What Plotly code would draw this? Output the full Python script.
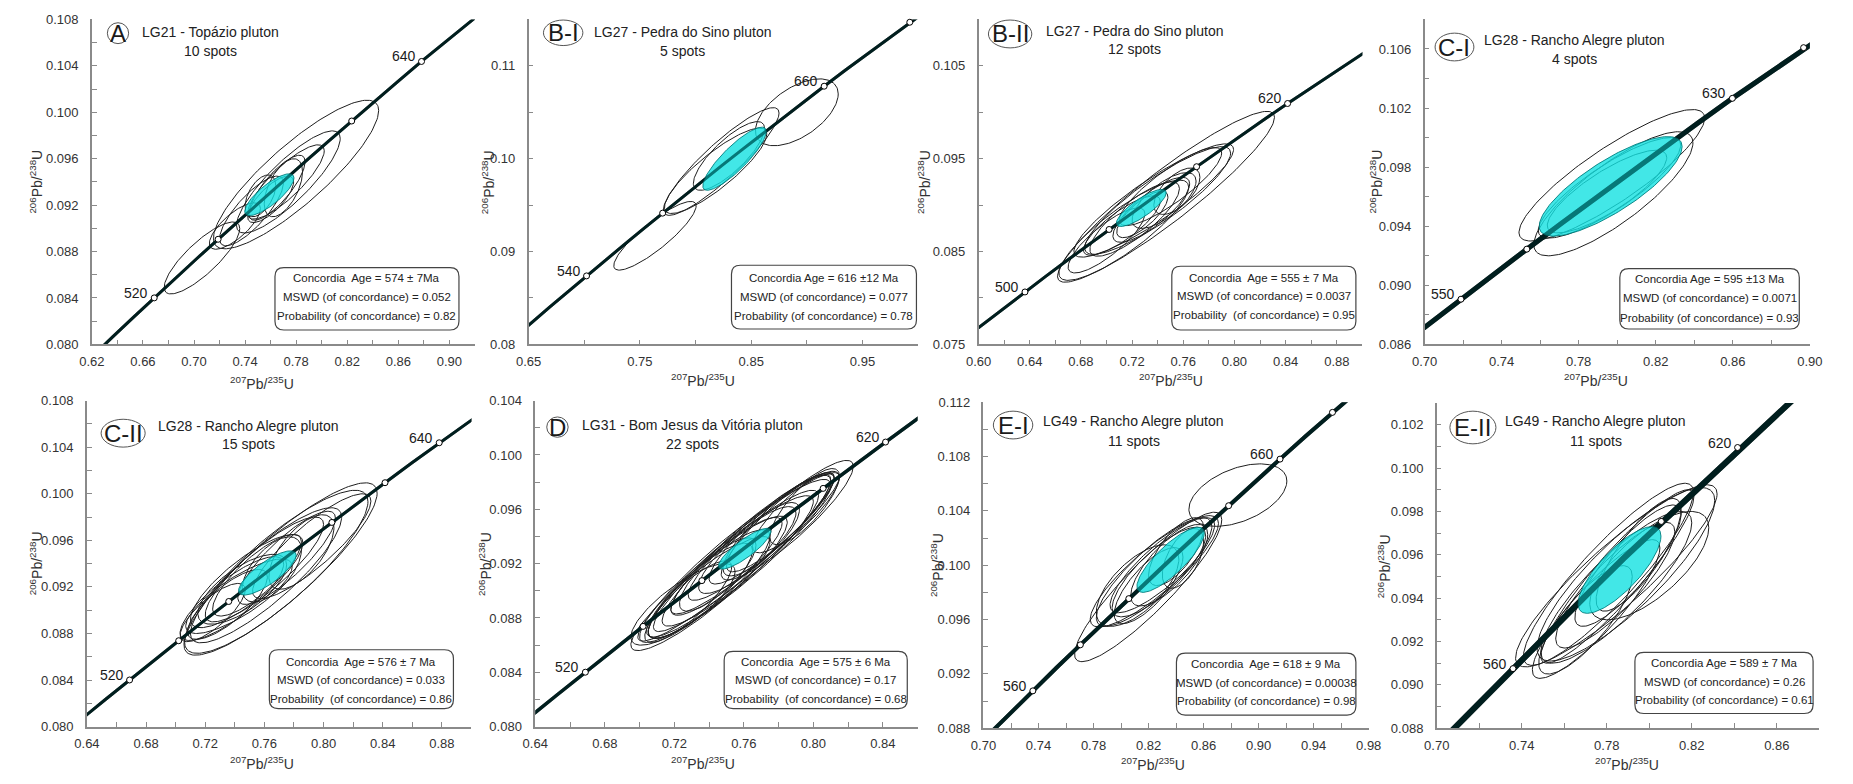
import numpy as np
import plotly.graph_objects as go

W, H = 1853, 784
FONT = "Liberation Sans, Arial, sans-serif"
NARROW = "Liberation Sans Narrow, Arial Narrow, Liberation Sans, sans-serif"

# ---------------- Concordia reference points (age Ma, 207Pb/235U, 206Pb/238U) ----------------
concordia_age = [460, 470, 480, 490, 500, 510, 520, 530, 540, 550, 560, 570, 580, 590, 600,
                 610, 620, 630, 640, 650, 660, 670, 680, 690, 700, 710, 720, 730, 740]
concordia_207 = [0.57307, 0.58864, 0.60436, 0.62024, 0.63628, 0.65247, 0.66883, 0.68535, 0.70203,
                 0.71887, 0.73588, 0.75306, 0.77041, 0.78794, 0.80563, 0.82350, 0.84155, 0.85978,
                 0.87818, 0.89677, 0.91554, 0.93450, 0.95365, 0.97298, 0.99251, 1.01223, 1.03215,
                 1.05226, 1.07257]
concordia_206 = [0.07397, 0.07563, 0.07730, 0.07897, 0.08065, 0.08233, 0.08401, 0.08569, 0.08738,
                 0.08906, 0.09075, 0.09245, 0.09414, 0.09584, 0.09754, 0.09925, 0.10095, 0.10266,
                 0.10438, 0.10609, 0.10781, 0.10953, 0.11125, 0.11297, 0.11470, 0.11643, 0.11817,
                 0.11990, 0.12164]

# ---------------- panel texts ----------------
panel_letters = ["A", "B-I", "B-II", "C-I", "C-II", "D", "E-I", "E-II"]
panel_titles = ["LG21 - Topázio pluton", "LG27 - Pedra do Sino pluton", "LG27 - Pedra do Sino pluton",
                "LG28 - Rancho Alegre pluton", "LG28 - Rancho Alegre pluton",
                "LG31 - Bom Jesus da Vitória pluton", "LG49 - Rancho Alegre pluton",
                "LG49 - Rancho Alegre pluton"]
panel_spots = ["10 spots", "5 spots", "12 spots", "4 spots", "15 spots", "22 spots", "11 spots", "11 spots"]
box_age = ["Concordia\u00a0 Age = 574 ± 7Ma", "Concordia Age = 616 ±12 Ma", "Concordia\u00a0 Age = 555 ± 7 Ma",
           "Concordia Age = 595 ±13 Ma", "Concordia\u00a0 Age = 576 ± 7 Ma", "Concordia\u00a0 Age = 575 ± 6 Ma",
           "Concordia\u00a0 Age = 618 ± 9 Ma", "Concordia Age = 589 ± 7 Ma"]
box_mswd = ["MSWD (of concordance) = 0.052", "MSWD (of concordance) = 0.077", "MSWD (of concordance) = 0.0037",
            "MSWD (of concordance) = 0.0071", "MSWD (of concordance) = 0.033", "MSWD (of concordance) = 0.17",
            "MSWD (of concordance) = 0.00038", "MSWD (of concordance) = 0.26"]
box_prob = ["Probability (of concordance) = 0.82", "Probability (of concordance) = 0.78",
            "Probability\u00a0 (of concordance) = 0.95", "Probability (of concordance) = 0.93",
            "Probability\u00a0 (of concordance) = 0.86", "Probability\u00a0 (of concordance) = 0.68",
            "Probability (of concordance) = 0.98", "Probability (of concordance) = 0.61"]

# ---------------- concordia age markers ----------------
marker_ages = [[520, 550, 580, 610, 640], [540, 580, 620, 660, 700], [500, 540, 580, 620],
               [550, 570, 590, 610, 630, 650], [520, 540, 560, 580, 600, 620, 640],
               [520, 540, 560, 580, 600, 620], [560, 580, 600, 620, 640, 660, 680], [560, 580, 600, 620]]
label_ages = [[520, 640], [540, 660], [500, 620], [550, 630], [520, 640], [520, 620], [560, 660], [560, 620]]

# ---------------- axes ----------------
x_ranges = [[0.62, 0.92], [0.65, 1.00], [0.60, 0.90], [0.70, 0.90], [0.64, 0.90], [0.64, 0.86], [0.70, 0.98], [0.70, 0.88]]
y_ranges = [[0.080, 0.108], [0.080, 0.115], [0.075, 0.110], [0.086, 0.108], [0.080, 0.108], [0.080, 0.104],
            [0.088, 0.112], [0.088, 0.103]]
x_tick_vals = [[0.62, 0.66, 0.70, 0.74, 0.78, 0.82, 0.86, 0.90], [0.65, 0.75, 0.85, 0.95],
               [0.60, 0.64, 0.68, 0.72, 0.76, 0.80, 0.84, 0.88], [0.70, 0.74, 0.78, 0.82, 0.86, 0.90],
               [0.64, 0.68, 0.72, 0.76, 0.80, 0.84, 0.88], [0.64, 0.68, 0.72, 0.76, 0.80, 0.84],
               [0.70, 0.74, 0.78, 0.82, 0.86, 0.90, 0.94, 0.98], [0.70, 0.74, 0.78, 0.82, 0.86]]
y_tick_vals = [[0.080, 0.084, 0.088, 0.092, 0.096, 0.100, 0.104, 0.108], [0.08, 0.09, 0.10, 0.11],
               [0.075, 0.085, 0.095, 0.105], [0.086, 0.090, 0.094, 0.098, 0.102, 0.106],
               [0.080, 0.084, 0.088, 0.092, 0.096, 0.100, 0.104, 0.108],
               [0.080, 0.084, 0.088, 0.092, 0.096, 0.100, 0.104],
               [0.088, 0.092, 0.096, 0.100, 0.104, 0.108, 0.112],
               [0.088, 0.090, 0.092, 0.094, 0.096, 0.098, 0.100, 0.102]]
x_minor_step = [0.02, 0.05, 0.02, 0.02, 0.02, 0.02, 0.02, 0.02]
y_minor_step = [0.002, 0.005, 0.005, 0.002, 0.002, 0.002, 0.002, 0.001]
y_label_fmt = [".3f", ".2f", ".3f", ".3f", ".3f", ".3f", ".3f", ".3f"]

# ---------------- spot error ellipses: (x centre, y centre, x half-extent, y half-extent, rho) ----------------
spots_A = [(0.7062, 0.08745, 0.0296, 0.0031, 0.82), (0.7799, 0.09464, 0.0647, 0.0064, 0.86),
           (0.7739, 0.09400, 0.0406, 0.0044, 0.85), (0.7450, 0.09150, 0.0250, 0.0030, 0.80),
           (0.7650, 0.09350, 0.0220, 0.0028, 0.80), (0.7720, 0.09400, 0.0300, 0.0032, 0.84),
           (0.7600, 0.09250, 0.0180, 0.0020, 0.75), (0.7320, 0.09020, 0.0200, 0.0020, 0.75),
           (0.7700, 0.09350, 0.0150, 0.0025, 0.55), (0.7520, 0.09280, 0.0120, 0.0018, 0.50)]
spots_B1 = [(0.7635, 0.0917, 0.0370, 0.0037, 0.87), (0.8910, 0.1050, 0.0372, 0.0036, 0.55),
            (0.8230, 0.0997, 0.0520, 0.0058, 0.90), (0.8180, 0.0987, 0.0460, 0.0046, 0.86),
            (0.8300, 0.1003, 0.0320, 0.0037, 0.80)]
spots_B2 = [(0.7465, 0.0909, 0.0848, 0.0092, 0.93), (0.7369, 0.0905, 0.0624, 0.0061, 0.90),
            (0.7400, 0.0905, 0.0570, 0.0058, 0.88), (0.7135, 0.0873, 0.0507, 0.0054, 0.86),
            (0.7220, 0.0885, 0.0350, 0.0040, 0.82), (0.7350, 0.0895, 0.0300, 0.0035, 0.80),
            (0.7450, 0.0905, 0.0250, 0.0030, 0.70), (0.7280, 0.0890, 0.0200, 0.0025, 0.75),
            (0.7550, 0.0915, 0.0180, 0.0025, 0.60), (0.7120, 0.0878, 0.0300, 0.0032, 0.82),
            (0.7500, 0.0920, 0.0400, 0.0042, 0.86), (0.7000, 0.0862, 0.0300, 0.0035, 0.82)]
spots_C1 = [(0.7972, 0.09745, 0.0482, 0.00445, 0.87), (0.7980, 0.09620, 0.0413, 0.00420, 0.82),
            (0.7960, 0.09660, 0.0370, 0.00340, 0.85), (0.7947, 0.09635, 0.0310, 0.00280, 0.82)]
spots_C2 = [(0.7709, 0.09354, 0.0653, 0.0074, 0.88), (0.7680, 0.09330, 0.0620, 0.0070, 0.86),
            (0.7611, 0.09300, 0.0511, 0.0058, 0.86), (0.7428, 0.09120, 0.0360, 0.0032, 0.80),
            (0.7480, 0.09250, 0.0380, 0.0040, 0.82), (0.7350, 0.09050, 0.0270, 0.0030, 0.78),
            (0.7250, 0.08980, 0.0220, 0.0025, 0.78), (0.7550, 0.09300, 0.0300, 0.0035, 0.82),
            (0.7750, 0.09450, 0.0330, 0.0040, 0.85), (0.7850, 0.09500, 0.0220, 0.0032, 0.65),
            (0.7600, 0.09350, 0.0400, 0.0045, 0.86), (0.7450, 0.09180, 0.0300, 0.0030, 0.70),
            (0.7920, 0.09550, 0.0400, 0.0045, 0.86), (0.7650, 0.09350, 0.0200, 0.0028, 0.60),
            (0.7380, 0.09100, 0.0350, 0.0036, 0.82)]
spots_D = [(0.7570, 0.0925, 0.0580, 0.0062, 0.95), (0.7550, 0.0922, 0.0550, 0.0060, 0.93),
           (0.7600, 0.0928, 0.0520, 0.0058, 0.94), (0.7520, 0.0918, 0.0480, 0.0052, 0.92),
           (0.7650, 0.0935, 0.0470, 0.0052, 0.93), (0.7700, 0.0940, 0.0420, 0.0047, 0.92),
           (0.7450, 0.0910, 0.0400, 0.0045, 0.90), (0.7400, 0.0905, 0.0350, 0.0040, 0.88),
           (0.7750, 0.0945, 0.0350, 0.0040, 0.90), (0.7350, 0.0900, 0.0300, 0.0035, 0.85),
           (0.7800, 0.0950, 0.0300, 0.0036, 0.88), (0.7500, 0.0918, 0.0320, 0.0036, 0.88),
           (0.7620, 0.0930, 0.0280, 0.0032, 0.85), (0.7280, 0.0892, 0.0250, 0.0030, 0.85),
           (0.7900, 0.0958, 0.0250, 0.0030, 0.85), (0.7450, 0.0912, 0.0220, 0.0027, 0.80),
           (0.7700, 0.0938, 0.0220, 0.0027, 0.80), (0.7350, 0.0898, 0.0400, 0.0042, 0.90),
           (0.7850, 0.0952, 0.0380, 0.0044, 0.90), (0.7580, 0.0924, 0.0450, 0.0050, 0.92),
           (0.7250, 0.0890, 0.0300, 0.0030, 0.80), (0.7950, 0.0962, 0.0200, 0.0028, 0.80)]
spots_E1 = [(0.8849, 0.10516, 0.0356, 0.0023, 0.45), (0.8197, 0.09840, 0.0535, 0.0055, 0.90),
            (0.8242, 0.09955, 0.0466, 0.0041, 0.86), (0.8240, 0.09950, 0.0420, 0.0040, 0.84),
            (0.8300, 0.10000, 0.0380, 0.0035, 0.84), (0.8275, 0.09950, 0.0340, 0.0033, 0.80),
            (0.8350, 0.10000, 0.0280, 0.0030, 0.75), (0.8200, 0.09850, 0.0250, 0.0028, 0.75),
            (0.8400, 0.10100, 0.0200, 0.0025, 0.70), (0.8120, 0.09850, 0.0300, 0.0030, 0.65),
            (0.8450, 0.10050, 0.0150, 0.0022, 0.55)]
spots_E2 = [(0.7845, 0.09503, 0.0474, 0.0042, 0.90), (0.7808, 0.09510, 0.0400, 0.0042, 0.90),
            (0.7890, 0.09510, 0.0418, 0.0040, 0.85), (0.7845, 0.09450, 0.0355, 0.0035, 0.85),
            (0.7840, 0.09460, 0.0280, 0.0029, 0.85), (0.7750, 0.09350, 0.0300, 0.0032, 0.88),
            (0.7900, 0.09550, 0.0250, 0.0028, 0.85), (0.7950, 0.09600, 0.0200, 0.0026, 0.80),
            (0.8000, 0.09550, 0.0280, 0.0025, 0.70), (0.7700, 0.09300, 0.0220, 0.0025, 0.80),
            (0.7850, 0.09500, 0.0360, 0.0040, 0.92)]
all_spots = [spots_A, spots_B1, spots_B2, spots_C1, spots_C2, spots_D, spots_E1, spots_E2]

# concordia-age ellipses (cyan)
concordia_ellipses = [(0.7590, 0.0929, 0.0193, 0.0018, 0.80), (0.8350, 0.1000, 0.0285, 0.0034, 0.86),
                      (0.7272, 0.0897, 0.0195, 0.0020, 0.82), (0.7966, 0.0967, 0.0371, 0.00337, 0.80),
                      (0.7620, 0.0932, 0.0195, 0.0019, 0.80), (0.7605, 0.0931, 0.0151, 0.0015, 0.85),
                      (0.8360, 0.1004, 0.0245, 0.0024, 0.82), (0.7860, 0.0953, 0.0195, 0.0020, 0.78)]

# ---------------- layout geometry (pixels) ----------------
plot_px = [(80, 468.5, 12.7, 344), (523, 918, 12.7, 344), (979.3, 1368.6, 12.7, 344),
           (1431.7, 1822.4, 12.7, 344), (75, 465, 401.3, 733.7), (529.7, 917.5, 401.3, 733.7),
           (984.3, 1375, 402.9, 735.3), (1444, 1832, 403.8, 735.3)]
conc_width = [3, 3, 3, 5, 3, 3.5, 4, 6]
box_px = [(265.7, 265.7, 452.3, 329.3), (728.7, 263.3, 916.3, 328.3), (1175.3, 264.3, 1362, 329.3),
          (1629.7, 266.7, 1811.7, 328.3), (260, 655.3, 446.7, 715.3), (721.3, 657, 907, 715.3),
          (1180, 658.7, 1362, 722), (1645, 658, 1825.7, 720.3)]
box_line_px = [(276.7, 296, 315), (276.7, 295.3, 315), (276, 295, 314.3), (277.7, 296.7, 316.7),
               (668, 686.3, 705.3), (668, 686, 705.3), (669.7, 688.7, 708), (669.3, 687.7, 707)]
circle_px = [(106.5, 26.7, 21.6, 21.3), (558, 26.3, 40, 26), (1011.3, 27.5, 44, 28.4),
             (1462, 40.8, 39.4, 28.3), (111.7, 434.5, 44.7, 28.4), (552.2, 428.3, 21.7, 20.7),
             (1014.3, 426.2, 40, 28.3), (1480.7, 428.7, 46.7, 33.3)]
title_px = [(200.5, 25.7, 45), (679, 25.7, 45), (1137.7, 24, 43.3), (1583.3, 33.3, 53.3),
            (238.7, 427, 446), (688.8, 426.3, 446), (1136.5, 422, 442), (1605.2, 422, 442)]
xtitle_px = [(253, 383.3), (699.7, 380), (1174.3, 380), (1605.7, 380), (253, 770.3), (699.7, 770.3),
             (1156, 772), (1637.3, 772)]
ytitle_x_px = [23, 482, 924, 1382, 23, 478, 937, 1390]


def px(x):
    return x / W


def py(y):
    return 1 - y / H


def ellipse_xy(cx, cy, ex, ey, rho, n=160):
    t = np.linspace(0, 2 * np.pi, n)
    s = np.sqrt(1 - rho ** 2)
    return cx + ex * np.cos(t), cy + ey * (rho * np.cos(t) + s * np.sin(t))


def inside(xv, yv, e):
    cx, cy, ex, ey, rho = e
    u = (xv - cx) / ex
    v = (yv - cy) / ey
    s = np.sqrt(1 - rho ** 2)
    return u ** 2 + ((v - rho * u) / s) ** 2 < 1.05


fig = go.Figure()
annotations = []
shapes = []
age_lookup = dict(zip(concordia_age, zip(concordia_207, concordia_206)))

for i in range(8):
    k = "" if i == 0 else str(i + 1)
    xa, ya = "x" + k, "y" + k
    # spot ellipses
    exs, eys = [], []
    for e in all_spots[i]:
        xe, ye = ellipse_xy(*e)
        exs += list(xe) + [None]
        eys += list(ye) + [None]
    fig.add_trace(go.Scatter(x=exs, y=eys, mode="lines", line=dict(color="#1e1e1e", width=1),
                             xaxis=xa, yaxis=ya, showlegend=False, hoverinfo="skip"))
    # concordia curve
    fig.add_trace(go.Scatter(x=concordia_207, y=concordia_206, mode="lines",
                             line=dict(color="black", width=conc_width[i]),
                             xaxis=xa, yaxis=ya, showlegend=False, hoverinfo="skip"))
    # cyan concordia-age ellipse
    ce = concordia_ellipses[i]
    xc, yc = ellipse_xy(*ce)
    fig.add_trace(go.Scatter(x=xc, y=yc, mode="lines", fill="toself",
                             fillcolor="rgba(19,225,225,0.80)",
                             line=dict(color="rgba(0,125,125,0.9)", width=1),
                             xaxis=xa, yaxis=ya, showlegend=False, hoverinfo="skip"))
    fig.add_trace(go.Scatter(x=concordia_207, y=concordia_206, mode="lines",
                             line=dict(color="rgba(0,60,60,0.5)", width=conc_width[i]),
                             xaxis=xa, yaxis=ya, showlegend=False, hoverinfo="skip"))
    # age markers (those not covered by the cyan ellipse)
    mx = [age_lookup[a][0] for a in marker_ages[i] if not inside(age_lookup[a][0], age_lookup[a][1], ce)]
    my = [age_lookup[a][1] for a in marker_ages[i] if not inside(age_lookup[a][0], age_lookup[a][1], ce)]
    fig.add_trace(go.Scatter(x=mx, y=my, mode="markers",
                             marker=dict(symbol="circle", size=6, color="white",
                                         line=dict(color="black", width=1)),
                             xaxis=xa, yaxis=ya, showlegend=False, hoverinfo="skip", cliponaxis=False))
    for a in label_ages[i]:
        annotations.append(dict(x=age_lookup[a][0], y=age_lookup[a][1], xref=xa, yref=ya, text=str(a),
                                showarrow=False, xanchor="right", yanchor="middle", xshift=-4, yshift=5,
                                font=dict(family=FONT, size=14, color="#1a1a1a")))

    l, r, t, b = plot_px[i]
    axis_common = dict(showline=True, linecolor="#8a8a8a", linewidth=1.5, ticks="inside", ticklen=5,
                       tickwidth=1, tickcolor="#8a8a8a", showgrid=False, zeroline=False,
                       tickfont=dict(family=FONT, size=13, color="#333333"))
    fig.layout["xaxis" + k] = dict(domain=[px(l), px(r)], range=x_ranges[i], anchor=ya,
                                   tickmode="array", tickvals=x_tick_vals[i], tickformat=".2f",
                                   ticklabelstandoff=4,
                                   minor=dict(tickmode="linear", tick0=x_ranges[i][0], dtick=x_minor_step[i],
                                              ticks="inside", ticklen=5, tickcolor="#8a8a8a", showgrid=False),
                                   **axis_common)
    fig.layout["yaxis" + k] = dict(domain=[py(b), py(t)], range=y_ranges[i], anchor=xa,
                                   tickmode="array", tickvals=y_tick_vals[i], tickformat=y_label_fmt[i],
                                   ticklabelstandoff=9,
                                   minor=dict(tickmode="linear", tick0=y_ranges[i][0], dtick=y_minor_step[i],
                                              ticks="inside", ticklen=5, tickcolor="#8a8a8a", showgrid=False),
                                   **axis_common)

    # axis titles
    annotations.append(dict(x=px(xtitle_px[i][0]), y=py(xtitle_px[i][1]), xref="paper", yref="paper",
                            text="<sup>207</sup>Pb/<sup>235</sup>U", showarrow=False,
                            xanchor="center", yanchor="middle",
                            font=dict(family=FONT, size=14, color="#333333")))
    annotations.append(dict(x=px(ytitle_x_px[i]), y=py((t + b) / 2), xref="paper", yref="paper",
                            text="<sup>206</sup>Pb/<sup>238</sup>U", showarrow=False, textangle=-90,
                            xanchor="center", yanchor="middle",
                            font=dict(family=FONT, size=14, color="#333333")))
    # titles
    tx, ty1, ty2 = title_px[i]
    annotations.append(dict(x=px(tx), y=py(ty1), xref="paper", yref="paper", text=panel_titles[i],
                            showarrow=False, xanchor="center", yanchor="middle",
                            font=dict(family=FONT, size=14, color="#222222")))
    annotations.append(dict(x=px(tx), y=py(ty2), xref="paper", yref="paper", text=panel_spots[i],
                            showarrow=False, xanchor="center", yanchor="middle",
                            font=dict(family=FONT, size=14, color="#222222")))
    # circled panel letter
    ccx, ccy, cw, ch = circle_px[i]
    shapes.append(dict(type="circle", xref="paper", yref="paper", x0=px(ccx - cw / 2), x1=px(ccx + cw / 2),
                       y0=py(ccy + ch / 2), y1=py(ccy - ch / 2), line=dict(color="#555555", width=1)))
    annotations.append(dict(x=px(ccx), y=py(ccy), xref="paper", yref="paper", text=panel_letters[i],
                            showarrow=False, xanchor="center", yanchor="middle",
                            font=dict(family=NARROW, size=24, color="#1a1a1a")))
    # rounded statistics box
    x0, y0, x1, y1 = box_px[i]
    rr = 9
    pts = [("M", x0 + rr, y0), ("L", x1 - rr, y0), ("Q", x1, y0, x1, y0 + rr), ("L", x1, y1 - rr),
           ("Q", x1, y1, x1 - rr, y1), ("L", x0 + rr, y1), ("Q", x0, y1, x0, y1 - rr), ("L", x0, y0 + rr),
           ("Q", x0, y0, x0 + rr, y0)]
    path = ""
    for p in pts:
        cmd = p[0]
        coords = p[1:]
        seg = " ".join(f"{px(coords[j]):.6f},{py(coords[j + 1]):.6f}" for j in range(0, len(coords), 2))
        path += f"{cmd}{seg} "
    path += "Z"
    shapes.append(dict(type="path", xref="paper", yref="paper", path=path,
                       line=dict(color="#444444", width=1.2), fillcolor="rgba(255,255,255,0)"))
    bcx = (x0 + x1) / 2
    for txt, ly in zip([box_age[i], box_mswd[i], box_prob[i]], box_line_px[i]):
        annotations.append(dict(x=px(bcx), y=py(ly), xref="paper", yref="paper", text=txt, showarrow=False,
                                xanchor="center", yanchor="middle",
                                font=dict(family=FONT, size=11.5, color="#222222")))

fig.update_layout(width=W, height=H, margin=dict(l=0, r=0, t=0, b=0), paper_bgcolor="white",
                  plot_bgcolor="white", annotations=annotations, shapes=shapes, showlegend=False)
fig.write_html("out.html")
